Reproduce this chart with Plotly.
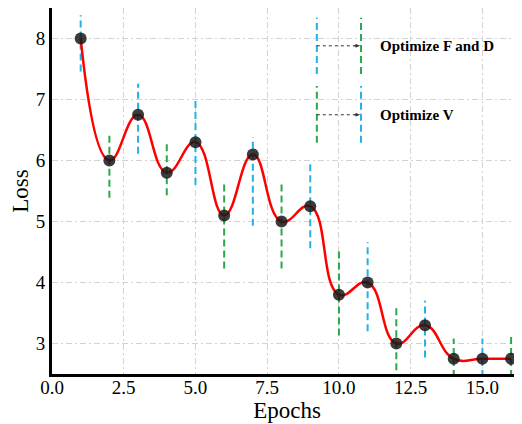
import plotly.graph_objects as go

epochs = list(range(1, 17))
loss = [8.0, 6.0, 6.75, 5.8, 6.3, 5.1, 6.1, 5.0, 5.25, 3.8, 4.0, 3.0, 3.3, 2.75, 2.75, 2.75]
bar_low = [7.46, 5.39, 6.11, 5.43, 5.6, 4.23, 4.93, 4.23, 4.56, 3.13, 3.2, 2.56, 2.77, 2.45, 2.45, 2.45]
bar_high = [8.38, 6.46, 7.26, 6.28, 7.0, 5.67, 6.38, 5.67, 6.0, 4.56, 4.66, 3.59, 3.7, 3.08, 3.08, 3.13]
x_ticks = [0.0, 2.5, 5.0, 7.5, 10.0, 12.5, 15.0]
y_ticks = [3, 4, 5, 6, 7, 8]

BLUE = "#25B0E6"
GREEN = "#2AA84A"
FONT = "Liberation Serif, Times New Roman, serif"

fig = go.Figure()

def seg_trace(idx, color):
    xs, ys = [], []
    for i in idx:
        xs += [epochs[i], epochs[i], None]
        ys += [bar_low[i], bar_high[i], None]
    return go.Scatter(x=xs, y=ys, mode="lines", showlegend=False, hoverinfo="skip",
                      line=dict(color=color, width=2, dash="7px,4px"))

odd = [i for i in range(len(epochs)) if epochs[i] % 2 == 1]
even = [i for i in range(len(epochs)) if epochs[i] % 2 == 0]
fig.add_trace(seg_trace(odd, BLUE))
fig.add_trace(seg_trace(even, GREEN))

fig.add_trace(go.Scatter(x=epochs, y=loss, mode="lines", line=dict(color="#FF0000", width=2.5, shape="spline", smoothing=1.3),
                         showlegend=False, hoverinfo="skip"))
fig.add_trace(go.Scatter(x=epochs, y=loss, mode="markers", marker=dict(color="rgba(25,25,25,0.85)", size=12),
                         showlegend=False, cliponaxis=False))

# legend-like key
key_x = [9.23, 10.77]
key_rows = [(8.34, 7.42, 7.88, BLUE, GREEN, "Optimize F and D"),
            (7.22, 6.29, 6.75, GREEN, BLUE, "Optimize V")]
for top, bot, mid, c1, c2, label in key_rows:
    fig.add_trace(go.Scatter(x=[key_x[0], key_x[0]], y=[bot, top], mode="lines", showlegend=False,
                             line=dict(color=c1, width=2, dash="7px,4px"), hoverinfo="skip"))
    fig.add_trace(go.Scatter(x=[key_x[1], key_x[1]], y=[bot, top], mode="lines", showlegend=False,
                             line=dict(color=c2, width=2, dash="7px,4px"), hoverinfo="skip"))
    fig.add_trace(go.Scatter(x=[key_x[0], key_x[1] - 0.05], y=[mid, mid], mode="lines", showlegend=False,
                             line=dict(color="#333333", width=1, dash="dot"), hoverinfo="skip"))
    fig.add_annotation(x=key_x[1] - 0.05, y=mid, ax=key_x[1] - 0.3, ay=mid, axref="x", ayref="y",
                       xref="x", yref="y", showarrow=True, arrowhead=2, arrowsize=0.8, arrowwidth=1,
                       arrowcolor="#333333", text="")
    fig.add_annotation(x=11.36, y=mid, xref="x", yref="y", text="<b>" + label + "</b>", showarrow=False,
                       xanchor="left", yanchor="middle", font=dict(family=FONT, size=15, color="black"))

grid = dict(showgrid=True, gridcolor="#D3D3D3", gridwidth=1, griddash="6px,3px,2px,3px", zeroline=False)
fig.update_xaxes(range=[0, 16.38], tickvals=x_ticks, ticktext=[f"{v:.1f}" for v in x_ticks],
                 showline=True, linecolor="black", linewidth=3, mirror=True,
                 title=dict(text="Epochs", font=dict(family=FONT, size=23, color="black"), standoff=0),
                 tickfont=dict(family=FONT, size=19, color="black"), ticks="", ticklabelstandoff=-6, **grid)
fig.update_yaxes(range=[2.5, 8.5], tickvals=y_ticks, showline=True, linecolor="black", linewidth=3, mirror=False,
                 title=dict(text="Loss", font=dict(family=FONT, size=23, color="black"), standoff=6),
                 tickfont=dict(family=FONT, size=19, color="black"), ticks="", **grid)

# page body has an 8px default margin; size the figure so the plot area lands where the reference's does
fig.update_layout(width=514, height=416, margin=dict(l=44, r=0, t=0, b=50, autoexpand=False),
                  plot_bgcolor="white", paper_bgcolor="white", showlegend=False)

fig.write_html("out.html")
